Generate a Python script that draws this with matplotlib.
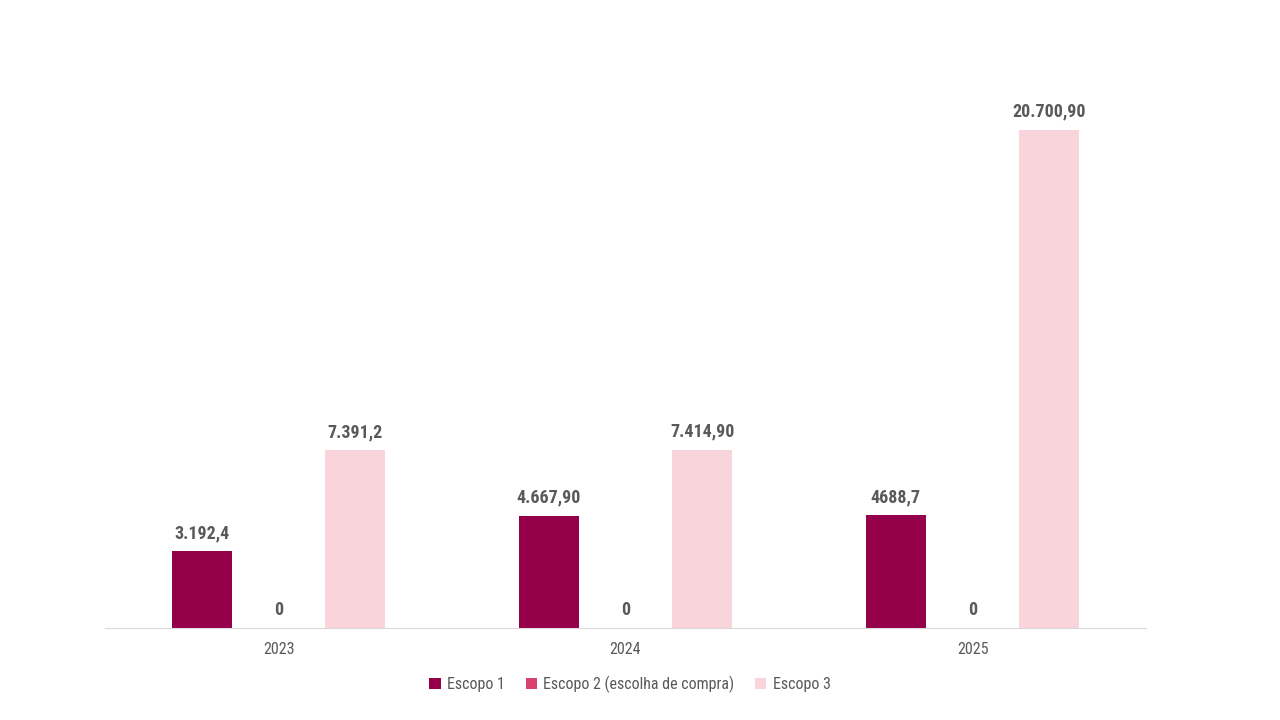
import matplotlib
matplotlib.use("Agg")
import matplotlib.pyplot as plt
import numpy as np

categories = ["2023", "2024", "2025"]
series_names = ["Escopo 1", "Escopo 2 (escolha de compra)", "Escopo 3"]
escopo1 = [3192.4, 4667.9, 4688.7]
escopo2 = [0, 0, 0]
escopo3 = [7391.2, 7414.9, 20700.9]
labels1 = ["3.192,4", "4.667,90", "4688,7"]
labels2 = ["0", "0", "0"]
labels3 = ["7.391,2", "7.414,90", "20.700,90"]
colors = ["#94004A", "#D9416F", "#FAD4DB"]

plt.rcParams['font.family'] = ['Roboto Condensed', 'Roboto', 'DejaVu Sans']

fig = plt.figure(figsize=(12.8, 7.2), dpi=100)
ax = fig.add_axes([105/1280, 1-628/720, (1146-105)/1280, (628-60)/720])

x = np.arange(len(categories))
w = 0.173
off = 0.221
for i, (vals, labs) in enumerate(zip([escopo1, escopo2, escopo3], [labels1, labels2, labels3])):
    pos = x + (i - 1) * off
    bars = ax.bar(pos, vals, width=w, color=colors[i], label=series_names[i])
    for b, lab in zip(bars, labs):
        ax.annotate(lab, (b.get_x() + b.get_width()/2, b.get_height()),
                    xytext=(0, 6.5), textcoords="offset points", ha="center", va="bottom",
                    fontsize=13, fontweight="bold", color="#595959")

ax.set_xlim(-0.5, 2.5)
ax.set_ylim(0, 23608)
ax.set_xticks(x)
ax.set_xticklabels(categories, fontsize=11.5, color="#595959")
ax.tick_params(axis="x", length=0, pad=10)
ax.set_yticks([])
for s in ["top", "right", "left"]:
    ax.spines[s].set_visible(False)
ax.spines["bottom"].set_color("#D9D9D9")

fig.legend(loc="center", bbox_to_anchor=(630/1280, 1-684/720), ncol=3, frameon=False,
           fontsize=11.5, labelcolor="#595959", handlelength=0.7, handleheight=0.7,
           handletextpad=0.4, columnspacing=1.3)

fig.savefig("out.png", dpi=100, facecolor="white")
